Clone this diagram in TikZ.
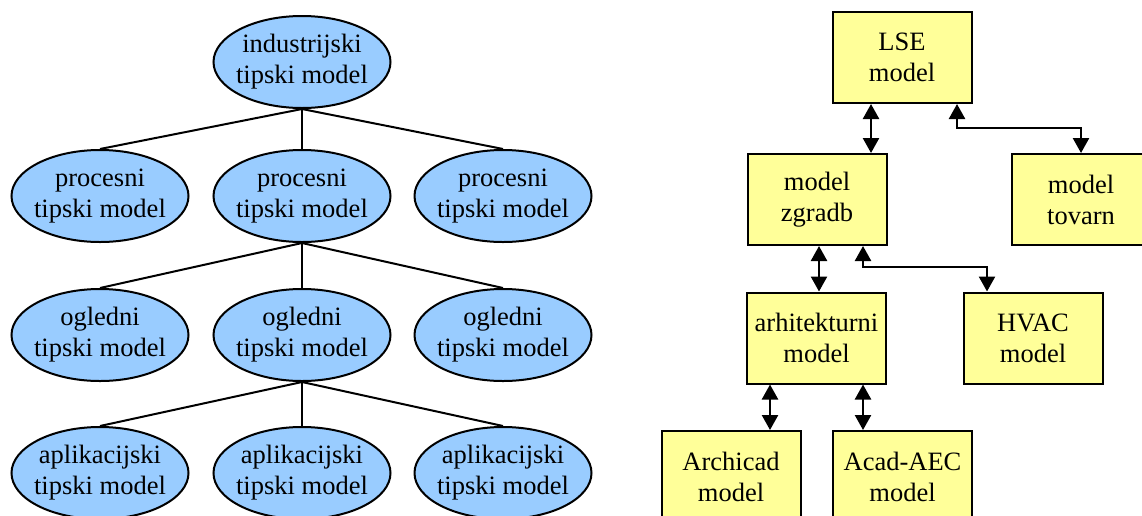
\documentclass[tikz,border=0pt]{standalone}
\usepackage{fontspec}
\setmainfont{Liberation Serif}
\usetikzlibrary{shapes.geometric,arrows.meta,calc}
\definecolor{ellblue}{HTML}{99CCFF}
\definecolor{boxyellow}{HTML}{FFFF99}
\begin{document}
\begin{tikzpicture}[x=1pt,y=-1pt,
  ell/.style={ellipse,draw=black,line width=2pt,fill=ellblue,minimum width=177pt,minimum height=92pt,inner xsep=-6pt,inner ysep=0pt,align=center,font=\fontsize{26.5}{31}\selectfont},
  ybox/.style={rectangle,draw=black,line width=2pt,fill=boxyellow,minimum width=139pt,minimum height=91pt,inner sep=0pt,align=center,font=\fontsize{26.5}{31}\selectfont},
  tree/.style={line width=2pt},
  darr/.style={line width=2.4pt,{Triangle[width=16pt,length=15pt]}-{Triangle[width=16pt,length=15pt]}}
]
\useasboundingbox (0,0) rectangle (1142,515);
% tree
\node[ell] (i)  at (302,62)  {industrijski\\tipski model};
\node[ell] (p1) at (100,196) {procesni\\tipski model};
\node[ell] (p2) at (302,196) {procesni\\tipski model};
\node[ell] (p3) at (503,196) {procesni\\tipski model};
\node[ell] (o1) at (100,335) {ogledni\\tipski model};
\node[ell] (o2) at (302,335) {ogledni\\tipski model};
\node[ell] (o3) at (503,335) {ogledni\\tipski model};
\node[ell] (a1) at (100,473) {aplikacijski\\tipski model};
\node[ell] (a2) at (302,473) {aplikacijski\\tipski model};
\node[ell] (a3) at (503,473) {aplikacijski\\tipski model};
\foreach \c in {p1,p2,p3} \draw[tree] (i.south) -- (\c.north);
\foreach \c in {o1,o2,o3} \draw[tree] (p2.south) -- (\c.north);
\foreach \c in {a1,a2,a3} \draw[tree] (o2.south) -- (\c.north);
% boxes
\node[ybox] (lse) at (902,57.5)  {LSE\\model};
\node[ybox] (zg)  at (817,199.5) {model\\zgradb};
\node[ybox] (tov) at (1081,199.5) {model\\tovarn};
\node[ybox] (arh) at (816.5,338) {arhitekturni\\model};
\node[ybox] (hv)  at (1033,338) {HVAC\\model};
\node[ybox] (ac)  at (731,476.5) {Archicad\\model};
\node[ybox] (ae)  at (902.5,476.5) {Acad-AEC\\model};
\coordinate (x1) at (871,0);
\coordinate (j1) at (957,128);
\coordinate (x2) at (819,0);
\coordinate (j2) at (863,267);
\coordinate (j3) at (987,267);
\coordinate (x3) at (770,0);
\coordinate (x4) at (863,0);
\draw[darr] (lse.south -| x1) -- (zg.north -| x1);
\draw[darr] (lse.south -| j1) -- (j1) -| (tov.north);
\draw[darr] (zg.south -| x2) -- (arh.north -| x2);
\draw[darr] (zg.south -| j2) -- (j2) -- (j3) -- (hv.north -| j3);
\draw[darr] (arh.south -| x3) -- (ac.north -| x3);
\draw[darr] (arh.south -| x4) -- (ae.north -| x4);
\end{tikzpicture}
\end{document}
